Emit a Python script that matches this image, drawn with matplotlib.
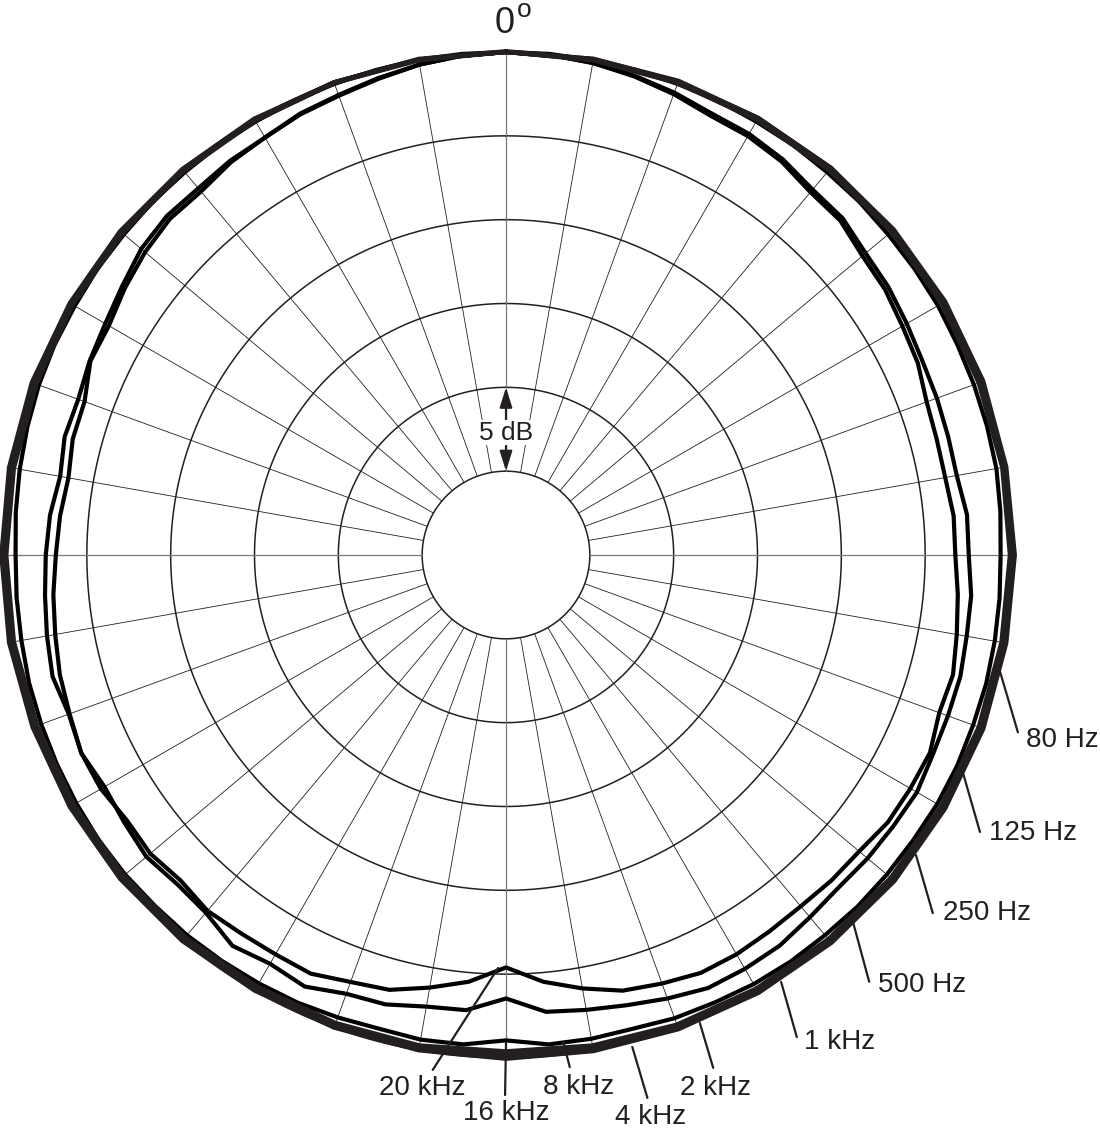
import numpy as np
import matplotlib
matplotlib.use("Agg")
import matplotlib.pyplot as plt

plt.rcParams['font.family'] = ['Liberation Sans', 'DejaVu Sans']

# polar response, dB re 0 deg, clockwise from the front
ANGLES_10 = list(range(0, 360, 10))
ANGLES_5 = list(range(0, 360, 5))

resp_80hz = [0.05, 0.05, 0.10, 0.10, 0.15, 0.20, 0.25, 0.30, 0.30, 0.35, 0.30, 0.30,
             0.25, 0.25, 0.20, 0.15, 0.10, 0.05, 0.05, 0.00, 0.00, 0.00, 0.05, 0.05,
             0.05, 0.05, 0.10, 0.10, 0.10, 0.10, 0.05, 0.05, 0.05, 0.05, 0.00, 0.05]
resp_125hz = [0.00, 0.05, 0.05, 0.10, 0.15, 0.15, 0.20, 0.25, 0.25, 0.30, 0.25, 0.25,
              0.20, 0.20, 0.15, 0.10, 0.05, 0.00, 0.00, -0.05, -0.05, -0.05, 0.00, 0.00,
              0.00, 0.00, 0.05, 0.05, 0.05, 0.05, 0.00, 0.00, 0.00, 0.00, 0.00, 0.00]
resp_250hz = [0.00, 0.00, 0.05, 0.05, 0.10, 0.10, 0.15, 0.20, 0.20, 0.25, 0.20, 0.20,
              0.15, 0.15, 0.10, 0.05, 0.00, -0.05, -0.05, -0.10, -0.10, -0.10, -0.05, -0.05,
              -0.05, -0.05, 0.00, 0.00, 0.00, 0.00, -0.05, -0.05, 0.00, 0.00, 0.00, 0.00]
resp_500hz = [0.00, 0.00, 0.00, 0.05, 0.05, 0.10, 0.10, 0.15, 0.15, 0.20, 0.15, 0.15,
              0.10, 0.10, 0.05, 0.00, -0.05, -0.10, -0.15, -0.15, -0.15, -0.15, -0.10, -0.10,
              -0.10, -0.10, -0.05, -0.05, -0.05, -0.05, -0.10, -0.05, -0.05, 0.00, 0.00, 0.00]
resp_1khz = [0.00, 0.00, 0.00, 0.00, 0.05, 0.05, 0.10, 0.10, 0.15, 0.15, 0.10, 0.10,
             0.05, 0.05, 0.00, -0.05, -0.10, -0.15, -0.20, -0.20, -0.20, -0.20, -0.15, -0.15,
             -0.15, -0.15, -0.10, -0.10, -0.10, -0.10, -0.10, -0.10, -0.05, -0.05, 0.00, 0.00]
resp_2khz = [0.00, 0.00, -0.05, 0.00, 0.00, 0.05, 0.05, 0.05, 0.10, 0.10, 0.05, 0.05,
             0.00, 0.00, -0.05, -0.10, -0.15, -0.25, -0.30, -0.25, -0.25, -0.25, -0.20, -0.20,
             -0.20, -0.20, -0.15, -0.15, -0.15, -0.15, -0.15, -0.10, -0.10, -0.05, -0.05, 0.00]
resp_4khz = [0.00, -0.05, -0.05, -0.05, -0.05, 0.00, 0.00, 0.00, 0.05, 0.05, 0.00, 0.00,
             -0.05, -0.05, -0.10, -0.15, -0.20, -0.30, -0.40, -0.30, -0.30, -0.30, -0.25, -0.25,
             -0.25, -0.25, -0.20, -0.20, -0.20, -0.20, -0.15, -0.15, -0.10, -0.10, -0.05, -0.05]

resp_8khz = [0.00, 0.00, -0.05, -0.05, -0.10, -0.10, -0.15, -0.15, -0.20, -0.20, -0.25, -0.25,
             -0.25, -0.30, -0.30, -0.30, -0.30, -0.40, -0.50, -0.45, -0.40, -0.35, -0.35, -0.30,
             -0.30, -0.35, -0.35, -0.35, -0.40, -0.40, -0.45, -0.55, -0.60, -0.75, -0.70, -0.70,
             -1.05, -0.70, -0.65, -0.75, -0.65, -0.55, -0.50, -0.45, -0.40, -0.40, -0.35, -0.35,
             -0.40, -0.45, -0.50, -0.55, -0.65, -0.70, -0.75, -0.65, -0.55, -0.45, -0.35, -0.30,
             -0.30, -0.25, -0.25, -0.20, -0.20, -0.15, -0.15, -0.10, -0.10, -0.05, 0.00, 0.00]
resp_16khz = [0.00, -0.05, -0.20, -0.40, -0.65, -0.95, -1.00, -1.20, -1.55, -1.60, -2.00, -2.15,
              -2.40, -2.60, -2.65, -2.70, -2.70, -2.40, -2.40, -2.15, -2.10, -1.95, -1.95, -1.90,
              -1.70, -1.80, -1.85, -1.95, -1.80, -1.55, -1.50, -1.50, -1.85, -2.20, -2.45, -2.65,
              -3.55, -2.75, -2.65, -2.25, -2.15, -1.60, -1.85, -1.55, -2.15, -2.25, -2.00, -2.20,
              -2.35, -2.05, -2.25, -2.00, -2.20, -2.40, -2.55, -2.70, -3.00, -2.75, -2.85, -2.60,
              -2.40, -2.05, -1.60, -1.40, -1.45, -1.30, -1.25, -0.95, -0.80, -0.55, -0.30, -0.10]
resp_20khz = [0.00, -0.05, -0.20, -0.45, -0.75, -1.10, -1.15, -1.35, -1.75, -1.80, -2.25, -2.40,
              -2.70, -2.90, -3.30, -3.40, -3.40, -3.20, -3.20, -2.95, -2.70, -2.40, -2.50, -2.10,
              -2.15, -2.20, -2.50, -2.55, -2.65, -2.60, -2.50, -2.50, -2.80, -3.10, -3.75, -4.45,
              -5.40, -4.45, -3.80, -3.15, -2.90, -2.45, -2.50, -2.45, -2.30, -2.55, -2.30, -2.40,
              -2.10, -2.05, -2.30, -2.45, -2.70, -2.90, -3.15, -3.30, -3.50, -3.25, -3.25, -2.65,
              -2.65, -2.25, -1.90, -1.65, -1.70, -1.40, -1.25, -1.00, -0.85, -0.60, -0.30, -0.10]

freq_labels = ["80 Hz", "125 Hz", "250 Hz", "500 Hz", "1 kHz", "2 kHz",
               "4 kHz", "8 kHz", "16 kHz", "20 kHz"]
series = [
    (ANGLES_10, resp_80hz), (ANGLES_10, resp_125hz), (ANGLES_10, resp_250hz),
    (ANGLES_10, resp_500hz), (ANGLES_10, resp_1khz), (ANGLES_10, resp_2khz),
    (ANGLES_10, resp_4khz), (ANGLES_5, resp_8khz), (ANGLES_5, resp_16khz),
    (ANGLES_5, resp_20khz),
]

ring_levels = [-25, -20, -15, -10, -5, 0]
spoke_angles = list(range(0, 360, 10))

# label placement: (tip angle, tip dB), (tail angle, tail dB), (text angle, text dB, ha)
label_layout = [
    ((103.3, 0.28), (109.1, 2.31), (109.6, 2.92, 'left')),
    ((115.5, 0.20), (120.3, 2.74), (119.9, 3.24, 'left')),
    ((126.2, 0.30), (130.0, 3.23), (129.3, 3.69, 'left')),
    ((136.6, 0.12), (139.6, 3.42), (139.1, 3.91, 'left')),
    ((147.2, 0.29), (148.9, 3.58), (148.5, 4.05, 'left')),
    ((157.5, 0.21), (158.0, 2.99), (158.5, 4.17, 'center')),
    ((165.6, 0.29), (165.4, 3.46), (165.6, 4.60, 'center')),
    ((173.3, -0.76), (172.9, 0.78), (172.2, 2.03, 'center')),
    ((180.0, -0.90), (180.1, 2.21), (180.0, 3.28, 'center')),
    ((181.1, -5.36), (188.1, 1.02), (188.9, 2.17, 'center')),
]

INK = '#231f20'


def closed(angles, values):
    th = np.radians(list(angles) + [360])
    return th, np.array(list(values) + [values[0]])


def draw_grid(ax):
    full = np.linspace(0, 2 * np.pi, 721)
    for lvl in ring_levels:
        ax.plot(full, np.full_like(full, lvl), color=INK, lw=1.1, zorder=1, clip_on=False)
    for a in spoke_angles:
        main = a % 90 == 0
        ax.plot([np.radians(a)] * 2, [ring_levels[0], 0],
                color='#7a7a7a' if main else INK, lw=0.9 if main else 0.6, zorder=1)


def draw_curves(ax):
    for i, (angles, vals) in enumerate(series):
        th, r = closed(angles, vals)
        col = INK if i < 7 else 'black'
        ax.plot(th, r, color=col, lw=3.0, solid_joinstyle='miter', zorder=3 if i < 7 else 2,
                clip_on=False)


def draw_labels(ax):
    for text, (tip, tail, pos) in zip(freq_labels, label_layout):
        ax.annotate('', xy=(np.radians(tip[0]), tip[1]),
                    xytext=(np.radians(tail[0]), tail[1]),
                    arrowprops=dict(arrowstyle='-', lw=1.6, color=INK,
                                    shrinkA=0, shrinkB=0),
                    annotation_clip=False, zorder=4)
        ax.text(np.radians(pos[0]), pos[1], text, ha=pos[2], va='center',
                fontsize=20, color=INK, clip_on=False, zorder=5)

    # "0" with a raised small "o" as the degree mark
    ax.annotate('0', xy=(0, 0), xytext=(-1, 13.5), textcoords='offset points',
                ha='center', va='baseline', fontsize=26, color=INK, annotation_clip=False)
    ax.annotate('o', xy=(0, 0), xytext=(7.5, 25), textcoords='offset points',
                ha='left', va='baseline', fontsize=19, color=INK, annotation_clip=False)

    # 5 dB scale marker between the two innermost rings
    head = dict(arrowstyle='-|>,head_length=0.8,head_width=0.25', lw=1.6, color=INK,
                mutation_scale=15, shrinkA=0, shrinkB=0)
    ax.annotate('', xy=(0, -20), xytext=(0, -21.9), arrowprops=head, zorder=6)
    ax.annotate('', xy=(0, -25), xytext=(0, -23.5), arrowprops=head, zorder=6)
    ax.text(0, -22.7, '5 dB', ha='center', va='center', fontsize=19, color=INK, zorder=6,
            bbox=dict(facecolor='white', edgecolor='none', pad=0.5))


def main():
    fig = plt.figure(figsize=(11, 11.36), dpi=100)
    ax = fig.add_axes([3 / 1100, 78 / 1136, 1006 / 1100, 1006 / 1136], projection='polar')
    ax.set_theta_zero_location('N')
    ax.set_theta_direction(-1)
    ax.set_ylim(-30, 0)
    ax.set_axis_off()

    draw_grid(ax)
    draw_curves(ax)
    draw_labels(ax)

    fig.savefig('out.png', dpi=100, facecolor='white')


if __name__ == '__main__':
    main()
